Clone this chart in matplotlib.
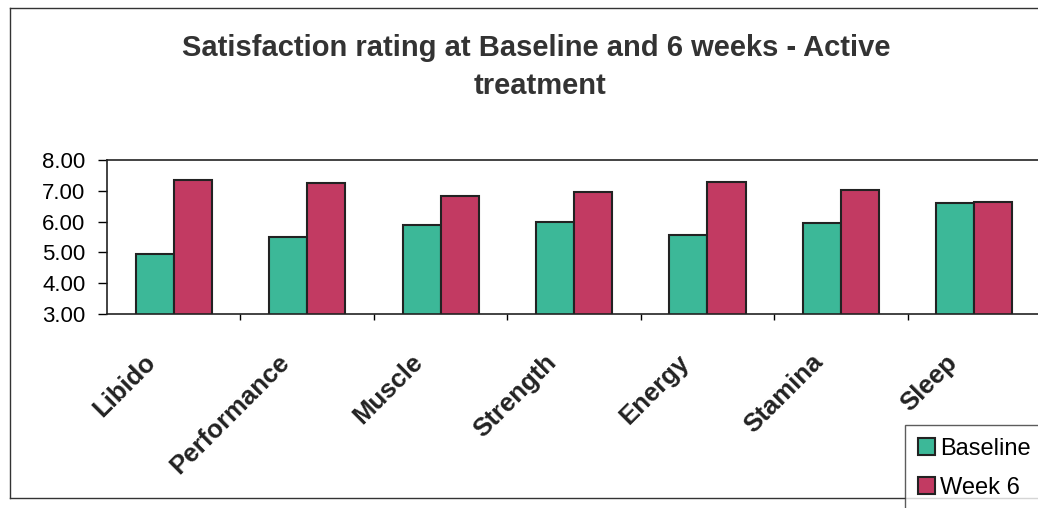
import numpy as np
import matplotlib.pyplot as plt
from matplotlib.lines import Line2D
from matplotlib.transforms import ScaledTranslation

plt.rcParams['font.family'] = ['Liberation Sans', 'DejaVu Sans']

categories = ["Libido", "Performance", "Muscle", "Strength", "Energy", "Stamina", "Sleep"]
baseline = [4.95, 5.50, 5.88, 6.00, 5.55, 5.97, 6.60]
week6 = [7.35, 7.25, 6.82, 6.95, 7.30, 7.03, 6.63]
series_names = ["Baseline", "Week 6"]
yticks = [3.0, 4.0, 5.0, 6.0, 7.0, 8.0]

teal = "#3cb898"
crimson = "#c23a62"
edge = "#222222"

fig = plt.figure(figsize=(10.38, 5.08), dpi=100)

# outer chart frame
for xs, ys in [([0.0096, 1.0], [0.984, 0.984]),
               ([0.0096, 0.0096], [0.0197, 0.984]),
               ([0.0096, 1.0], [0.0197, 0.0197])]:
    fig.add_artist(Line2D(xs, ys, transform=fig.transFigure, color="#333333", lw=1.0))

ax = fig.add_axes([0.103, 0.382, 0.9, 0.303])

x = np.arange(len(categories))
w = 0.285
ax.bar(x - w / 2, baseline, w, color=teal, edgecolor=edge, linewidth=1.5,
       label=series_names[0])
ax.bar(x + w / 2, week6, w, color=crimson, edgecolor=edge, linewidth=1.5,
       label=series_names[1])

ax.set_ylim(3.0, 8.0)
ax.set_xlim(-0.5, len(categories) - 0.5)
ax.set_yticks(yticks)
ax.set_yticklabels([f"{v:.2f}" for v in yticks], fontsize=16)
ax.tick_params(axis="y", direction="out", length=6.5, width=1, pad=9)

ax.set_xticks(x)
ax.set_xticklabels(categories, rotation=45, ha="right", rotation_mode="anchor",
                   fontsize=18.5, fontweight="bold", color="#222222")
ax.tick_params(axis="x", length=0, pad=26)
shift = ScaledTranslation(-30 / 100, 0, fig.dpi_scale_trans)
for lbl in ax.get_xticklabels():
    lbl.set_transform(lbl.get_transform() + shift)
ax.set_xticks(np.arange(0.5, len(categories) - 0.5, 1.0), minor=True)
ax.tick_params(axis="x", which="minor", direction="out", length=4.5, width=1)

for side in ["left", "bottom", "top"]:
    ax.spines[side].set_linewidth(1.2)
    ax.spines[side].set_color("#222222")
ax.spines["right"].set_visible(False)

fig.text(0.517, 0.905, "Satisfaction rating at Baseline and 6 weeks - Active",
         ha="center", va="center", fontsize=21, fontweight="bold", color="#333333")
fig.text(0.52, 0.83, "treatment", ha="center", va="center", fontsize=21,
         fontweight="bold", color="#333333")

leg = fig.legend(loc="upper left", bbox_to_anchor=(905 / 1038, 1 - 425 / 508),
                 bbox_transform=fig.transFigure, fontsize=17, frameon=True,
                 fancybox=False, handlelength=0.7, handleheight=0.7,
                 handletextpad=0.25, borderpad=0.55, labelspacing=0.7,
                 borderaxespad=0)
leg.get_frame().set_edgecolor("#333333")
leg.get_frame().set_linewidth(1.0)

fig.savefig("out.png", dpi=100, facecolor="white")
